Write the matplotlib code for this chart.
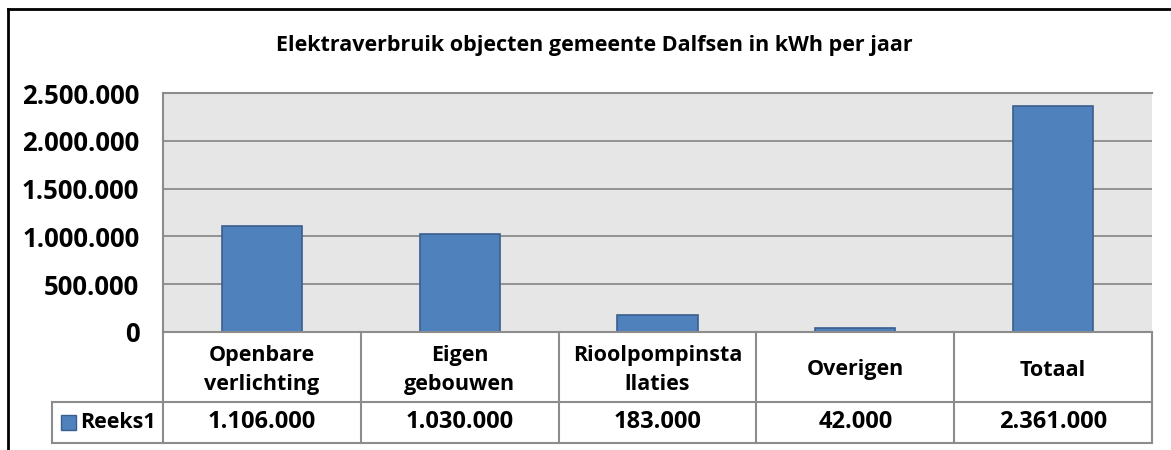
import matplotlib
matplotlib.use('agg')
import matplotlib.pyplot as plt
from matplotlib.patches import Rectangle
from matplotlib.lines import Line2D
import numpy as np

categories = ['Openbare\nverlichting', 'Eigen\ngebouwen', 'Rioolpompinsta\nllaties', 'Overigen', 'Totaal']
values = [1106000, 1030000, 183000, 42000, 2361000]
series_name = 'Reeks1'
title = 'Elektraverbruik objecten gemeente Dalfsen in kWh per jaar'
yticks = [0, 500000, 1000000, 1500000, 2000000, 2500000]

plt.rcParams['font.family'] = ['Open Sans', 'DejaVu Sans']
plt.rcParams['font.weight'] = 'bold'


def nl_fmt(v):
    return '{:,}'.format(int(v)).replace(',', '.')


W, H = 1171, 450
fig = plt.figure(figsize=(W / 100, H / 100), dpi=100)
fig.patch.set_facecolor('white')

grid_col = '#8c8c8c'
bar_col = '#4f81bd'
edge_col = '#3a5f8e'

# outer chart border (only left and top visible in crop)
fig.add_artist(Line2D([8 / W, 8 / W], [0, 1 - 9 / H], color='black', lw=2))
fig.add_artist(Line2D([8 / W, 1], [1 - 9 / H, 1 - 9 / H], color='black', lw=2))

x0, x1 = 163, 1152
ytop, ybot = 93, 332
ax = fig.add_axes([x0 / W, 1 - ybot / H, (x1 - x0) / W, (ybot - ytop) / H])
ax.set_facecolor('#e6e6e6')
pos = np.arange(len(values))
ax.bar(pos, values, width=0.405, color=bar_col, edgecolor=edge_col, lw=1.2, zorder=3)
ax.set_xlim(-0.5, len(values) - 0.5)
ax.set_ylim(0, 2500000)
ax.set_yticks(yticks)
ax.set_yticklabels([nl_fmt(t) for t in yticks], fontsize=18.5, fontweight='bold')
ax.tick_params(axis='y', length=0, pad=17)
ax.set_xticks([])
ax.grid(axis='y', color=grid_col, lw=1.3, zorder=1)
for s in ['right', 'bottom']:
    ax.spines[s].set_visible(False)
for s in ['left', 'top']:
    ax.spines[s].set_color(grid_col)
    ax.spines[s].set_linewidth(1.5)

fig.text(594 / W, 1 - 45 / H, title, ha='center', va='center', fontsize=15.5, fontweight='bold')

# data table below the plot
r1, r2 = 332, 443
tab = fig.add_axes([x0 / W, 1 - r2 / H, (x1 - x0) / W, (r2 - r1) / H])
tab.set_xlim(-0.5, len(values) - 0.5)
tab.set_ylim(0, r2 - r1)
tab.axis('off')
mid = r2 - 402  # height of value row
col_w = (x1 - x0) / len(values)
left_leg = -0.5 - (x0 - 52) / col_w
lk = dict(color=grid_col, lw=1.5, clip_on=False)
tab.plot([-0.5, len(values) - 0.5], [r2 - r1, r2 - r1], **lk)
tab.plot([left_leg, len(values) - 0.5], [mid, mid], **lk)
tab.plot([left_leg, len(values) - 0.5], [0, 0], **lk)
tab.plot([left_leg, left_leg], [0, mid], **lk)
for i in range(len(values) + 1):
    tab.plot([i - 0.5, i - 0.5], [0, r2 - r1], **lk)
for i, (c, v) in enumerate(zip(categories, values)):
    tab.text(i, mid + (r2 - r1 - mid) / 2 - 3, c, ha='center', va='center',
             fontsize=15.5, fontweight='bold', linespacing=1.5)
    tab.text(i, mid / 2, nl_fmt(v), ha='center', va='center', fontsize=17, fontweight='bold')
tab.add_patch(Rectangle((left_leg + 9 / col_w, mid / 2 - 7.5), 15 / col_w, 15, facecolor=bar_col,
                        edgecolor=edge_col, lw=1, clip_on=False))
tab.text(-0.5 - 7 / col_w, mid / 2, series_name, ha='right', va='center', fontsize=15.5,
         fontweight='bold')

plt.savefig('out.png', dpi=100)
